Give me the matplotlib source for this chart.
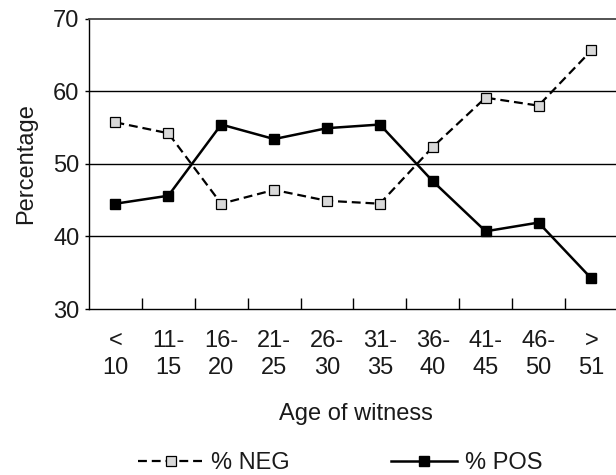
import matplotlib
matplotlib.use("Agg")
import matplotlib.pyplot as plt
from matplotlib.lines import Line2D

plt.rcParams['font.family'] = ['Liberation Sans', 'DejaVu Sans']

categories = ["<\n10", "11-\n15", "16-\n20", "21-\n25", "26-\n30", "31-\n35",
              "36-\n40", "41-\n45", "46-\n50", ">\n51"]
neg = [55.7, 54.2, 44.5, 46.4, 44.9, 44.5, 52.3, 59.1, 58.0, 65.6]
pos = [44.5, 45.6, 55.4, 53.4, 54.9, 55.4, 47.6, 40.7, 41.9, 34.2]
yticks = [30, 40, 50, 60, 70]

FS = 17
TXT = '#1a1a1a'
fig = plt.figure(figsize=(6.16, 4.75), dpi=100)
ax = fig.add_axes([89/616, 166/475, 1.003 - 89/616, (456.5-166)/475])

x = list(range(len(categories)))
dash = (0, (4, 2.2))
ax.plot(x, neg, color='black', lw=1.6, ls=dash, marker='s', ms=6.5,
        mfc='#d9d9d9', mec='black', mew=0.9, zorder=3)
ax.plot(x, pos, color='black', lw=1.8, ls='-', marker='s', ms=6.5,
        mfc='black', mec='black', zorder=4)

ax.set_xlim(-0.5, len(categories) - 0.5)
ax.set_ylim(30, 70)
ax.set_yticks(yticks)
ax.set_yticklabels([str(v) for v in yticks], fontsize=FS, color=TXT)
for v in yticks[1:-1]:
    ax.axhline(v, color='black', lw=1.0, zorder=1)

ax.set_xticks([i + 0.5 for i in range(len(categories) - 1)])
ax.set_xticklabels([])
ax.tick_params(axis='x', direction='in', length=8, width=1.0, color='black')
ax.tick_params(axis='y', direction='out', length=3, width=1.0, pad=4)

for i, lab in enumerate(categories):
    ax.text(i, -0.072, lab, transform=ax.get_xaxis_transform(), ha='center',
            va='top', fontsize=FS, linespacing=1.32, color=TXT)

for s in ['left', 'bottom', 'top']:
    ax.spines[s].set_color('black')
    ax.spines[s].set_linewidth(1.0)
ax.spines['top'].set_color('#444444')
ax.spines['top'].set_linewidth(1.3)
ax.spines['right'].set_visible(False)

ax.set_ylabel("Percentage", fontsize=FS, labelpad=11, color=TXT)
fig.text(356/616, 1 - 414/475, "Age of witness", ha='center',
         va='center', fontsize=FS, color=TXT)

handles = [
    Line2D([], [], color='black', lw=1.6, ls=dash, marker='s', ms=6.5,
           mfc='#d9d9d9', mec='black', mew=0.9),
    Line2D([], [], color='black', lw=1.8, marker='s', ms=6.5, mfc='black', mec='black'),
]
leg = fig.legend(handles, ["% NEG", "% POS"], loc='center', bbox_to_anchor=(340/616, 1 - 463/475),
                 ncol=2, frameon=False, fontsize=FS, handlelength=2.8, handletextpad=0.3,
                 columnspacing=4.3)
for t in leg.get_texts():
    t.set_color(TXT)

fig.savefig("out.png", dpi=100)
